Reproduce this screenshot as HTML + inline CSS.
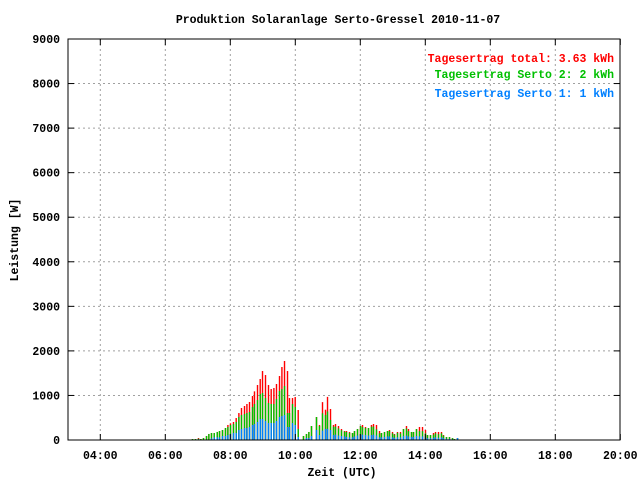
<!DOCTYPE html>
<html><head><meta charset="utf-8"><style>
html,body{margin:0;padding:0;background:#fff;}
svg{display:block;font-family:"Liberation Mono",monospace;}
</style></head><body>
<svg id="chart" width="640" height="480" viewBox="0 0 640 480" xmlns="http://www.w3.org/2000/svg">
<rect width="640" height="480" fill="#fff"/>
<text x="338" y="23" text-anchor="middle" font-size="11.5" font-weight="bold">Produktion Solaranlage Serto-Gressel 2010-11-07</text>
<g id="grid"></g>
<g id="bars"></g>
<rect x="68" y="39" width="552" height="401" fill="none" stroke="#000" stroke-width="1"/>
<g id="axes"></g>
<text x="18" y="240" text-anchor="middle" font-size="11.5" font-weight="bold" transform="rotate(-90 18 240)">Leistung [W]</text>
<text x="342" y="476" text-anchor="middle" font-size="11.5" font-weight="bold">Zeit (UTC)</text>
<g font-size="11.5" font-weight="bold" text-anchor="end">
<text x="614" y="62" fill="#ff0000">Tagesertrag total: 3.63 kWh</text>
<text x="614" y="78" fill="#00c000">Tagesertrag Serto 2: 2 kWh</text>
<text x="614" y="97" fill="#0080ff">Tagesertrag Serto 1: 1 kWh</text>
</g>
</svg>
<script>
const times=[6.831,6.923,7.015,7.089,7.169,7.262,7.335,7.415,7.498,7.591,7.662,7.754,7.846,7.920,8.000,8.092,8.175,8.258,8.338,8.431,8.505,8.585,8.677,8.738,8.831,8.914,8.985,9.077,9.169,9.252,9.335,9.415,9.508,9.582,9.662,9.754,9.815,9.908,9.991,10.083,10.246,10.338,10.412,10.492,10.646,10.738,10.831,10.923,10.985,11.077,11.169,11.231,11.323,11.415,11.508,11.569,11.662,11.754,11.815,11.908,12.000,12.062,12.154,12.246,12.338,12.400,12.492,12.585,12.646,12.738,12.831,12.892,12.985,13.046,13.138,13.231,13.323,13.415,13.477,13.569,13.631,13.723,13.815,13.908,14.000,14.062,14.154,14.246,14.308,14.400,14.492,14.554,14.646,14.738,14.831,14.892,14.985];
const total=[22,22,45,22,45,90,135,157,157,180,202,224,269,337,374,404,493,605,718,763,808,853,987,1092,1234,1369,1548,1458,1234,1144,1167,1257,1436,1638,1773,1548,942,942,964,673,90,135,180,314,516,337,850,680,968,696,337,359,314,247,202,202,180,157,202,247,314,337,292,269,337,359,337,202,157,180,202,224,180,135,180,180,247,314,247,180,180,247,292,292,224,112,112,157,180,180,180,112,67,67,45,22,45];
const serto2=[22,22,30,22,45,90,135,157,157,180,202,224,269,292,337,359,404,516,561,583,606,628,740,808,897,1032,1055,942,830,808,808,920,1100,1144,1212,606,606,808,740,247,90,135,180,314,516,314,600,560,640,450,300,300,260,220,190,180,160,157,202,247,314,290,270,269,300,300,240,150,157,180,202,200,150,120,160,150,247,260,200,180,180,247,200,200,150,112,112,120,150,130,150,100,67,67,45,22,45];
const serto1=[0,0,15,0,0,0,0,37,60,60,60,90,90,112,135,157,157,224,247,269,269,292,337,359,404,471,471,426,381,381,381,426,516,538,561,292,292,381,337,67,0,45,45,90,224,112,210,250,250,224,112,120,100,90,80,70,60,60,80,100,120,120,110,100,110,120,100,60,60,70,80,80,60,50,60,60,90,100,80,70,70,90,80,80,60,40,40,50,60,50,60,40,25,25,15,10,45];
const yTicks=[0,1000,2000,3000,4000,5000,6000,7000,8000,9000];
const xTicks=[4,6,8,10,12,14,16,18,20];
const xTickLabels=["04:00","06:00","08:00","10:00","12:00","14:00","16:00","18:00","20:00"];

const NS="http://www.w3.org/2000/svg";
const X0=67.8,PXH=32.5,Y0=440,PXW=401/9000;
function xs(h){return X0+(h-3)*PXH;}
function ys(v){return Y0-v*PXW;}
function mk(tag,attrs,parent){const e=document.createElementNS(NS,tag);for(const k in attrs)e.setAttribute(k,attrs[k]);parent.appendChild(e);return e;}
const grid=document.getElementById('grid'),axes=document.getElementById('axes'),bars=document.getElementById('bars');
yTicks.forEach((v,i)=>{
  const y=ys(v);
  if(i>0&&i<yTicks.length-1){const l=mk('line',{x1:68,x2:620,y1:y,y2:y,stroke:'#a0a0a0','stroke-dasharray':'2,3'},grid);
  
  }
  const t1=mk('line',{x1:68,x2:74,y1:y,y2:y,stroke:'#000'},axes);
  
  
  const t2=mk('line',{x1:614,x2:620,y1:y,y2:y,stroke:'#000'},axes);
  
  
  const tx=mk('text',{x:60,y:y+4,'text-anchor':'end','font-size':'11.5','font-weight':'bold'},axes);
  tx.textContent=String(v);
  
  
});
xTicks.forEach((h,i)=>{
  const x=xs(h);
  if(x<619){const l=mk('line',{x1:x,x2:x,y1:39,y2:440,stroke:'#a0a0a0','stroke-dasharray':'2,3'},grid);
  
  }
  const t1=mk('line',{x1:x,x2:x,y1:434,y2:440,stroke:'#000'},axes);
  
  
  const t2=mk('line',{x1:x,x2:x,y1:39,y2:45,stroke:'#000'},axes);
  
  
  const tx=mk('text',{x:x,y:459,'text-anchor':'middle','font-size':'11.5','font-weight':'bold'},axes);
  tx.textContent=xTickLabels[i];
  
  
});
times.forEach((h,i)=>{
  const x=xs(h)-0.5;
  const r=mk('rect',{x:x,y:ys(total[i]),width:1.4,height:Y0-ys(total[i]),fill:'#ff0000'},bars);
  
  
  const g=mk('rect',{x:x,y:ys(serto2[i]),width:1.4,height:Y0-ys(serto2[i]),fill:'#00c000'},bars);
  
  
  const b=mk('rect',{x:x,y:ys(serto1[i]),width:1.4,height:Y0-ys(serto1[i]),fill:'#0080ff'},bars);
  
  
});
</script>
</body></html>
